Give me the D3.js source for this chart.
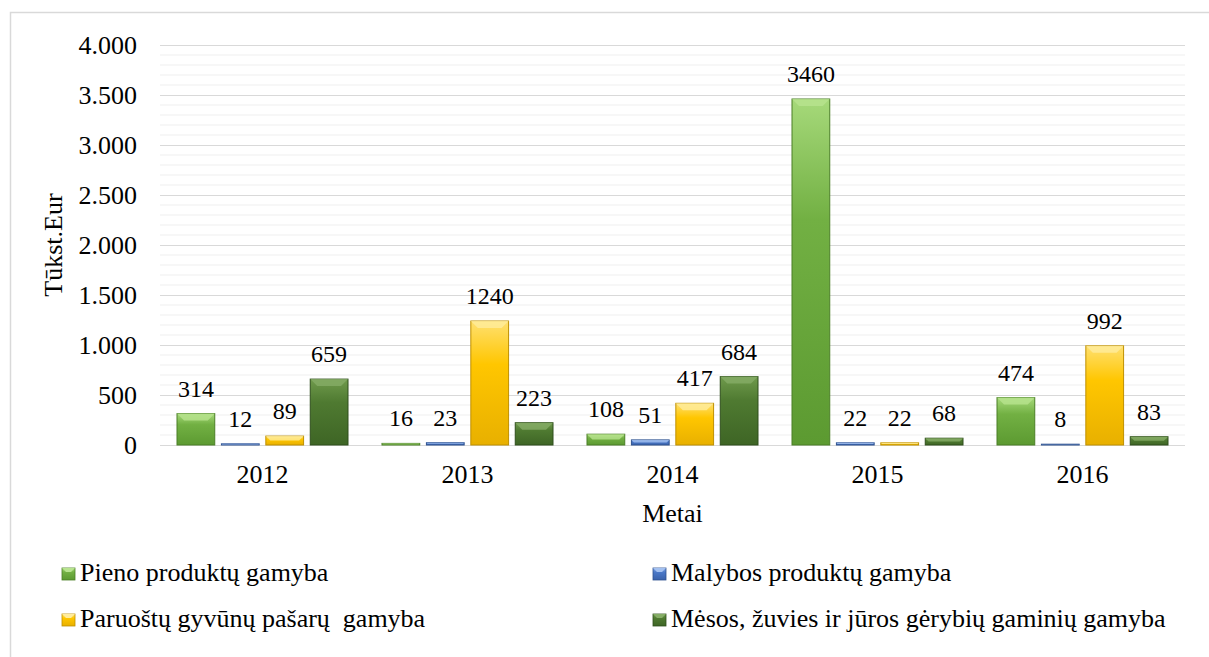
<!DOCTYPE html>
<html>
<head>
<meta charset="utf-8">
<script src="https://cdn.jsdelivr.net/npm/d3@7"></script>
<style>
  body { margin: 0; background: #fff; }
  svg text { font-family: "Liberation Serif", "Times New Roman", Times, "DejaVu Serif", serif !important; fill: #000; }
</style>
</head>
<body>
<div id="chart"></div>
<script>
const years = ["2012", "2013", "2014", "2015", "2016"]
const seriesNames = [
  "Pieno produktų gamyba",
  "Malybos produktų gamyba",
  "Paruoštų gyvūnų pašarų  gamyba",
  "Mėsos, žuvies ir jūros gėrybių gaminių gamyba"
]
const pieno = [314, 16, 108, 3460, 474]
const malybos = [12, 23, 51, 22, 8]
const pasarai = [89, 1240, 417, 22, 992]
const mesa = [659, 223, 684, 68, 83]
const yTicks = [0, 500, 1000, 1500, 2000, 2500, 3000, 3500, 4000]

const W = 1209, H = 657
const PLOT = { LEFT: 160, RIGHT: 1185, TOP: 45, BOTTOM: 445 }

// bar colours: [top, mid, bottom, edge, bevel]
const colors = [
  ["#a6d97a", "#72b043", "#5c9a31", "#4b7f27", "#b8e48f"],
  ["#86a9e6", "#4a78c8", "#3a62ab", "#2f528f", "#a3c0f0"],
  ["#ffe070", "#ffc600", "#e8b000", "#bf9000", "#ffec9c"],
  ["#6f9a4c", "#4f7a31", "#3e6525", "#2f4f1c", "#86ad66"]
]

const values = [pieno, malybos, pasarai, mesa]
const data = []
years.forEach((y, i) => {
  values.forEach((s, j) => data.push({ year: y, series: j, value: s[i] }))
})

const svg = d3.select("#chart").append("svg")
  .attr("width", W).attr("height", H)

// outer frame
svg.append("rect")
  .attr("x", 10.5).attr("y", 12.5)
  .attr("width", W + 20).attr("height", H + 20)
  .attr("fill", "none").attr("stroke", "#d9d9d9").attr("stroke-width", 1.5)

const defs = svg.append("defs")
colors.forEach((c, j) => {
  const g = defs.append("linearGradient").attr("id", "grad" + j)
    .attr("x1", 0).attr("y1", 0).attr("x2", 0).attr("y2", 1)
  g.append("stop").attr("offset", "0%").attr("stop-color", c[0])
  g.append("stop").attr("offset", "35%").attr("stop-color", c[1])
  g.append("stop").attr("offset", "100%").attr("stop-color", c[2])
})

const y = d3.scaleLinear().domain([0, 4000]).range([PLOT.BOTTOM, PLOT.TOP])
const x0 = d3.scaleBand().domain(years).range([PLOT.LEFT, PLOT.RIGHT])
const x1 = d3.scaleBand().domain(d3.range(4)).range([17, x0.bandwidth() - 17]).paddingInner(0.15)

const loc = d3.formatLocale({ decimal: ",", thousands: ".", grouping: [3], currency: ["", " €"] })
const fmt = loc.format(",")

// minor grid
svg.append("g").selectAll("line")
  .data(d3.range(100, 4001, 100).filter(v => v % 500 !== 0))
  .join("line")
  .attr("x1", PLOT.LEFT).attr("x2", PLOT.RIGHT)
  .attr("y1", d => y(d)).attr("y2", d => y(d))
  .attr("stroke", "#efefef").attr("stroke-width", 1)

// major grid + y labels
const yAxis = d3.axisLeft(y).tickValues(yTicks).tickFormat(fmt)
  .tickSize(-(PLOT.RIGHT - PLOT.LEFT)).tickPadding(23)
svg.append("g")
  .attr("transform", `translate(${PLOT.LEFT},0)`)
  .call(yAxis)
  .attr("font-family", null)
  .call(g => g.select(".domain").remove())
  .call(g => g.selectAll(".tick line").attr("stroke", "#d9d9d9").attr("stroke-width", 1.2))
  .call(g => g.selectAll(".tick text").attr("font-size", 26).attr("fill", "#000"))

// x labels
const xAxis = d3.axisBottom(x0).tickSize(0).tickPadding(0)
svg.append("g")
  .attr("transform", `translate(0,${PLOT.BOTTOM})`)
  .call(xAxis)
  .attr("font-family", null)
  .call(g => g.select(".domain").remove())
  .call(g => g.selectAll(".tick text").attr("font-size", 26).attr("fill", "#000")
    .attr("dy", null).attr("y", 38))

// bars
const groups = svg.append("g").selectAll("g")
  .data(data).join("g")
  .attr("transform", d => `translate(${x0(d.year) + x1(d.series)},0)`)

const bw = x1.bandwidth()
groups.append("rect")
  .attr("x", 0).attr("y", d => y(d.value))
  .attr("width", bw).attr("height", d => y(0) - y(d.value))
  .attr("fill", d => `url(#grad${d.series})`)
  .attr("stroke", d => colors[d.series][3]).attr("stroke-width", 1)

// top bevel
groups.append("path")
  .attr("d", d => {
    const t = y(d.value), h = y(0) - t, b = Math.min(7, h / 2)
    return `M0,${t}L${bw},${t}L${bw - b},${t + b}L${b},${t + b}Z`
  })
  .attr("fill", d => colors[d.series][4]).attr("opacity", 0.8)

// value labels
groups.append("text")
  .attr("x", bw / 2).attr("y", d => y(d.value) - 17)
  .attr("text-anchor", "middle").attr("font-size", 24)
  .text(d => d.value)

// axis titles
svg.append("text")
  .attr("x", (PLOT.LEFT + PLOT.RIGHT) / 2).attr("y", 522)
  .attr("text-anchor", "middle").attr("font-size", 26)
  .text("Metai")

svg.append("text")
  .attr("transform", "translate(62,245) rotate(-90)")
  .attr("text-anchor", "middle").attr("font-size", 26)
  .text("Tūkst.Eur")

// legend
const legendPos = [[62, 581], [653, 581], [62, 627], [653, 627]]
const leg = svg.append("g").selectAll("g")
  .data(seriesNames).join("g")
  .attr("transform", (d, i) => `translate(${legendPos[i][0]},${legendPos[i][1]})`)
leg.append("rect")
  .attr("x", 0).attr("y", -13).attr("width", 13).attr("height", 12)
  .attr("fill", (d, i) => `url(#grad${i})`)
  .attr("stroke", (d, i) => colors[i][3]).attr("stroke-width", 0.8)
leg.append("path")
  .attr("d", "M0,-13L13,-13L9,-9L4,-9Z")
  .attr("fill", (d, i) => colors[i][4])
leg.append("text")
  .attr("x", 18).attr("y", 0)
  .attr("font-size", 26)
  .attr("xml:space", "preserve")
  .style("white-space", "pre")
  .text(d => d)
</script>
</body>
</html>
